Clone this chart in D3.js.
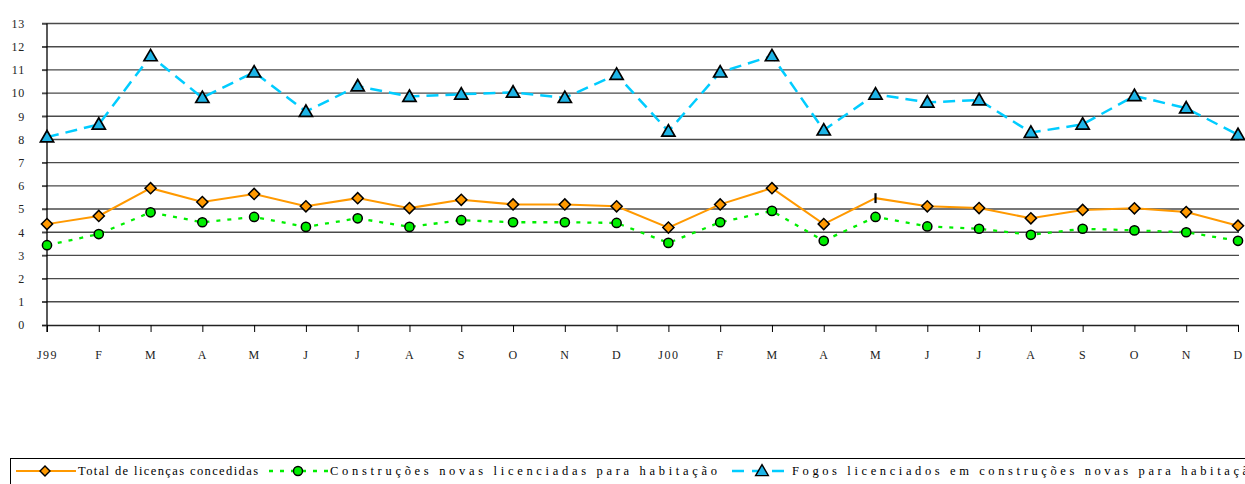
<!DOCTYPE html>
<html><head><meta charset="utf-8">
<script src="https://cdn.jsdelivr.net/npm/d3@7"></script>
<style>body{margin:0;background:#fff;overflow:hidden}svg{display:block}
svg text{font-family:"Liberation Serif","Times New Roman",serif;font-weight:normal}</style>
</head><body>
<script>
const months = ["J99","F","M","A","M","J","J","A","S","O","N","D","J00","F","M","A","M","J","J","A","S","O","N","D"];
const yTicks = [0,1,2,3,4,5,6,7,8,9,10,11,12,13];
const totalLicencas = [4.35,4.7,5.9,5.3,5.65,5.12,5.47,5.04,5.4,5.2,5.2,5.12,4.2,5.2,5.9,4.35,5.47,5.12,5.04,4.6,4.96,5.03,4.87,4.28];
const construcoes = [3.44,3.92,4.86,4.43,4.66,4.23,4.6,4.23,4.52,4.43,4.43,4.4,3.54,4.43,4.92,3.63,4.66,4.25,4.15,3.89,4.15,4.08,4.0,3.63];
const fogos = [8.1,8.65,11.6,9.8,10.9,9.2,10.3,9.85,9.95,10.03,9.8,10.8,8.35,10.9,11.6,8.4,9.95,9.6,9.7,8.3,8.65,9.88,9.35,8.2];
const seriesNames = ["Total de licenças concedidas","Construções novas licenciadas para habitação","Fogos licenciados em construções novas para habitação"];

const W=1245,H=484;
const svg=d3.select("body").append("svg").attr("width",W).attr("height",H);
const x=d3.scalePoint().domain(d3.range(months.length)).range([47,1238]);
const y=d3.scaleLinear().domain([0,13]).range([325,23.5]);

// gridlines
svg.append("g").selectAll("line").data(yTicks.filter(d=>d>0)).join("line")
 .attr("x1",42).attr("x2",1239).attr("y1",d=>y(d)).attr("y2",d=>y(d))
 .attr("stroke","#4a4a4a").attr("stroke-width",1.4);
// y axis
const ya=svg.append("g").attr("transform","translate(47,0)")
 .call(d3.axisLeft(y).tickValues(yTicks).tickSize(5).tickPadding(17).tickFormat(d3.format("d")));
ya.attr("font-family",null).attr("font-size",null);
ya.select(".domain").remove();
ya.append("line").attr("x1",0).attr("x2",0).attr("y1",y(13)).attr("y2",332).attr("stroke","#000").attr("stroke-width",1.3);
ya.selectAll(".tick line").attr("stroke","#4a4a4a").attr("stroke-width",1.4);
ya.selectAll("text").style("font-size","12px").attr("fill","#222").attr("letter-spacing","0.8px");
// x axis
const xa=svg.append("g").attr("transform","translate(0,325)")
 .call(d3.axisBottom(x).tickSize(7).tickPadding(18).tickFormat(i=>months[i]));
xa.attr("font-family",null).attr("font-size",null);
xa.select(".domain").attr("d",`M42,0.5H1239`).attr("stroke","#222").attr("stroke-width",1.4);
xa.selectAll(".tick line").attr("stroke","#000");
xa.selectAll("text").style("font-size","12px").attr("fill","#222").attr("letter-spacing","1.5px");

const line=d3.line().x((d,i)=>x(i)).y(d=>y(d));
const orange="#FF9900",green="#00EE00",blue="#00CCFF",blueFill="#1EB4E6";

svg.append("path").datum(fogos).attr("d",line).attr("fill","none").attr("stroke",blue).attr("stroke-width",2.5).attr("stroke-dasharray","12,7");
svg.append("path").datum(totalLicencas).attr("d",line).attr("fill","none").attr("stroke",orange).attr("stroke-width",2);
svg.append("path").datum(construcoes).attr("d",line).attr("fill","none").attr("stroke",green).attr("stroke-width",2.3).attr("stroke-dasharray","4,7");

const diamond=d3.symbol().type(d3.symbolSquare).size(62)();
const tri=d3.symbol().type(d3.symbolTriangle).size(75)();

// diamonds (May 2000 shows only a bar)
svg.append("g").selectAll("path").data(totalLicencas).join("path")
 .attr("transform",(d,i)=>`translate(${x(i)},${y(d)}) rotate(45)`)
 .attr("d",(d,i)=>i===16?"M-3.5,-3.5L3.5,3.5":diamond)
 .attr("fill",orange).attr("stroke","#000").attr("stroke-width",(d,i)=>i===16?2.2:1.5);
svg.append("g").selectAll("circle").data(construcoes).join("circle")
 .attr("cx",(d,i)=>x(i)).attr("cy",d=>y(d)).attr("r",4.6)
 .attr("fill",green).attr("stroke","#000").attr("stroke-width",1.5);
svg.append("g").selectAll("path").data(fogos).join("path")
 .attr("transform",(d,i)=>`translate(${x(i)},${y(d)+1})`).attr("d",tri)
 .attr("fill",blueFill).attr("stroke","#000").attr("stroke-width",1.7);

// legend
const lg=svg.append("g");
lg.append("rect").attr("x",10.5).attr("y",458.5).attr("width",1400).attr("height",100).attr("fill","none").attr("stroke","#000").attr("stroke-width",1);
const ly=471;
lg.append("line").attr("x1",16).attr("x2",76).attr("y1",ly).attr("y2",ly).attr("stroke",orange).attr("stroke-width",2);
lg.append("path").attr("transform",`translate(45,${ly}) rotate(45)`).attr("d",d3.symbol().type(d3.symbolSquare).size(50)()).attr("fill",orange).attr("stroke","#000").attr("stroke-width",1.4);
lg.append("line").attr("x1",269).attr("x2",329).attr("y1",ly).attr("y2",ly).attr("stroke",green).attr("stroke-width",2.3).attr("stroke-dasharray","4,7");
lg.append("circle").attr("cx",298).attr("cy",ly).attr("r",4.5).attr("fill",green).attr("stroke","#000").attr("stroke-width",1.4);
lg.append("line").attr("x1",732).attr("x2",790).attr("y1",ly).attr("y2",ly).attr("stroke",blue).attr("stroke-width",2.3).attr("stroke-dasharray","12,8");
lg.append("path").attr("transform",`translate(762,${ly+1})`).attr("d",d3.symbol().type(d3.symbolTriangle).size(70)()).attr("fill",blueFill).attr("stroke","#000").attr("stroke-width",1.4);
const lt=[[78,180],[330,387],[792,466]];
lg.selectAll("text").data(seriesNames).join("text")
 .attr("x",(d,i)=>lt[i][0]).attr("y",ly+4).attr("textLength",(d,i)=>lt[i][1]).attr("lengthAdjust","spacing")
 .style("font-size","12.5px").attr("fill","#000").text(d=>d);
</script>
</body></html>
